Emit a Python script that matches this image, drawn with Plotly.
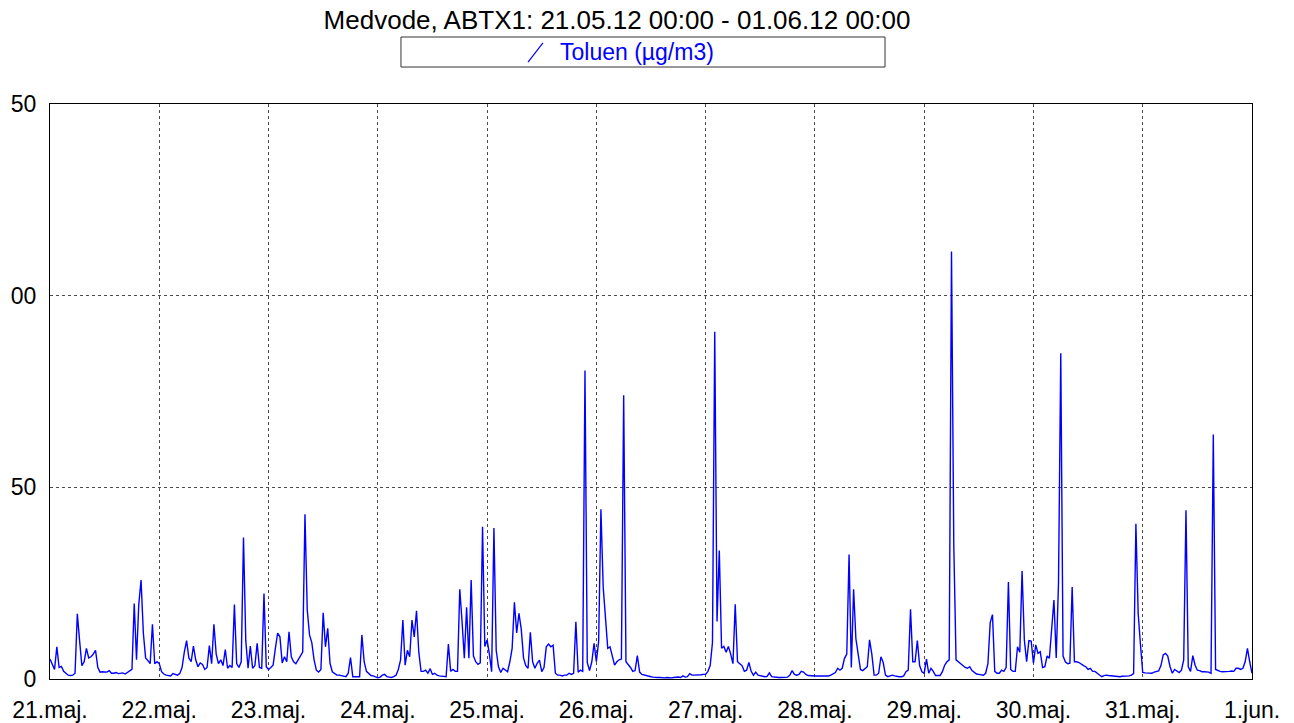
"""Medvode ABTX1 - Toluen, half-hourly values 21.05.2012 - 01.06.2012."""

import pandas as pd
import plotly.graph_objects as go

# half-hourly toluene concentrations (µg/m3), one list per day, 48 values each
may21 = [5.2, 3.8, 2.5, 8.4, 3.0, 3.3, 2.0, 1.5, 1.0, 0.9, 1.0, 1.5, 17.0, 10.0, 3.5, 4.5,
         8.0, 5.5, 5.8, 6.5, 7.5, 3.0, 1.8, 1.9, 1.8, 1.8, 2.2, 1.5, 1.5, 1.7, 1.4, 1.5,
         1.6, 1.3, 1.7, 1.9, 2.5, 19.7, 5.0, 19.5, 25.8, 12.0, 5.5, 4.8, 4.0, 14.3, 4.0, 4.5]
may22 = [4.0, 1.9, 1.3, 1.0, 0.9, 0.8, 1.4, 1.2, 1.0, 1.4, 3.0, 7.0, 10.0, 5.5, 4.5, 8.6,
         5.0, 3.2, 4.2, 3.8, 2.5, 3.0, 8.7, 4.0, 14.3, 6.5, 4.0, 5.0, 3.5, 7.7, 2.8, 3.5,
         3.0, 19.4, 4.0, 3.0, 4.5, 36.9, 10.0, 2.8, 8.6, 2.8, 3.5, 9.3, 3.0, 2.8, 22.3, 3.2]
may23 = [2.5, 3.0, 3.6, 8.0, 12.0, 11.0, 4.2, 5.8, 4.5, 12.3, 5.8, 4.5, 4.0, 5.0, 6.2, 7.0,
         43.0, 18.0, 11.5, 9.5, 5.0, 2.3, 1.8, 2.5, 17.3, 8.4, 13.2, 4.1, 1.9, 1.4, 1.0, 1.0,
         0.8, 0.7, 0.6, 1.5, 5.6, 0.6, 0.6, 0.5, 0.6, 11.5, 4.5, 2.0, 1.4, 0.9, 0.8, 0.5]
may24 = [0.3, 0.5, 1.0, 1.2, 0.6, 0.5, 0.4, 0.6, 1.0, 2.5, 5.0, 15.4, 3.6, 7.5, 5.8, 15.4,
         11.0, 17.8, 7.0, 2.0, 2.0, 2.3, 1.5, 2.7, 1.2, 1.5, 1.0, 0.8, 0.7, 0.6, 0.6, 9.1,
         2.0, 2.5, 2.0, 2.0, 23.4, 15.0, 5.4, 18.7, 5.4, 25.8, 6.0, 4.5, 3.8, 4.2, 39.7, 8.5]
may25 = [10.2, 6.5, 1.9, 39.4, 7.5, 3.2, 1.7, 2.8, 2.3, 1.9, 4.5, 8.0, 20.0, 12.0, 17.1, 13.0,
         5.5, 3.5, 2.8, 12.2, 4.5, 2.8, 4.1, 4.9, 1.9, 3.0, 8.4, 9.1, 8.4, 8.8, 1.5, 1.0,
         1.0, 0.8, 1.0, 1.0, 1.5, 1.2, 1.5, 14.9, 1.8, 2.3, 2.0, 80.5, 4.3, 2.2, 4.5, 9.3]
may26 = [4.5, 9.8, 44.3, 24.0, 16.0, 8.0, 8.4, 6.0, 3.6, 4.5, 5.0, 5.2, 74.0, 4.5, 3.8, 3.0,
         2.0, 2.2, 6.1, 1.8, 1.2, 1.0, 0.9, 0.7, 0.6, 0.5, 0.4, 0.4, 0.4, 0.3, 0.3, 0.4,
         0.3, 0.3, 0.4, 0.5, 0.5, 0.4, 0.8, 0.5, 0.6, 1.4, 1.0, 1.0, 1.0, 1.0, 1.1, 1.2]
may27 = [1.2, 2.0, 3.5, 9.5, 90.6, 15.0, 33.5, 8.0, 8.5, 7.0, 8.5, 6.5, 4.0, 19.5, 4.5, 4.0,
         3.5, 2.0, 2.3, 4.3, 2.0, 1.0, 1.8, 1.0, 0.8, 0.6, 0.6, 0.7, 1.6, 0.6, 0.5, 0.4,
         0.4, 0.4, 0.4, 0.4, 0.5, 1.0, 2.2, 1.2, 1.0, 1.2, 2.0, 1.8, 1.2, 0.9, 0.8, 0.8]
may28 = [0.8, 0.8, 0.8, 0.8, 0.8, 0.8, 0.8, 1.0, 1.3, 1.7, 2.8, 2.3, 2.8, 5.4, 6.5, 32.5,
         3.0, 23.4, 10.5, 6.0, 2.5, 2.2, 2.8, 3.2, 10.2, 6.5, 1.0, 1.0, 1.5, 5.8, 4.3, 1.0,
         0.6, 0.8, 1.0, 0.8, 0.6, 0.6, 0.6, 0.8, 1.9, 2.3, 18.2, 4.5, 4.5, 10.0, 3.5, 1.9]
may29 = [1.5, 5.2, 1.5, 2.8, 2.0, 0.9, 0.9, 0.9, 1.9, 3.6, 4.5, 5.0, 111.5, 35.0, 5.0, 4.5,
         4.0, 3.5, 3.0, 2.8, 3.2, 2.2, 1.8, 1.3, 1.2, 1.0, 1.0, 1.5, 4.0, 14.7, 16.8, 2.0,
         1.5, 1.5, 2.3, 2.0, 3.0, 25.3, 2.5, 2.0, 2.0, 8.4, 7.0, 28.2, 10.2, 4.5, 10.0, 9.9]
may30 = [4.1, 8.9, 6.7, 7.1, 3.0, 3.2, 6.0, 5.4, 12.3, 20.6, 5.5, 25.0, 85.0, 6.0, 4.5, 4.0,
         4.1, 24.0, 4.5, 4.5, 4.3, 3.8, 3.5, 3.2, 2.5, 2.8, 2.0, 2.0, 1.5, 1.2, 0.6, 0.9,
         1.0, 0.9, 0.8, 0.8, 0.7, 0.6, 0.6, 0.7, 0.7, 0.8, 0.8, 1.0, 1.4, 40.5, 17.1, 9.0]
may31 = [1.7, 1.6, 1.6, 1.5, 1.5, 1.8, 2.0, 2.1, 3.5, 6.3, 6.7, 6.0, 3.2, 1.5, 2.5, 2.0,
         1.7, 2.3, 5.0, 44.0, 3.2, 2.0, 6.1, 3.6, 2.3, 2.2, 1.9, 1.9, 1.9, 1.8, 1.5, 63.8,
         2.5, 2.2, 2.0, 1.9, 1.9, 1.9, 2.0, 2.1, 2.0, 2.8, 2.8, 2.5, 2.8, 4.5, 8.0, 4.5]
jun01 = [1.5]

toluen = may21 + may22 + may23 + may24 + may25 + may26 + may27 + may28 + may29 + may30 + may31 + jun01

day_ticks = pd.date_range("2012-05-21", "2012-06-01", freq="D")
day_labels = ["21.maj.", "22.maj.", "23.maj.", "24.maj.", "25.maj.", "26.maj.",
              "27.maj.", "28.maj.", "29.maj.", "30.maj.", "31.maj.", "1.jun."]
y_ticks = [0, 50, 100, 150]
y_labels = ["0", "50", "00", "50"]  # left digit is cut off in the original

times = pd.date_range("2012-05-21 00:00", periods=len(toluen), freq="30min")

FONT = "Liberation Sans, Arial, sans-serif"
GRID = "#4a4a4a"

fig = go.Figure()
fig.add_trace(
    go.Scatter(
        x=times,
        y=toluen,
        mode="lines",
        name="Toluen (µg/m3)",
        line=dict(color="#0000ff", width=1.4),
        showlegend=False,
    )
)

axis_style = dict(
    showgrid=True,
    gridcolor=GRID,
    griddash="dot",
    gridwidth=1,
    showline=True,
    mirror=True,
    linecolor="black",
    linewidth=1,
    ticks="",
    automargin=False,
    zeroline=False,
    tickfont=dict(family=FONT, size=23, color="black"),
)
fig.update_xaxes(
    range=[day_ticks[0], day_ticks[-1]],
    tickvals=day_ticks,
    ticktext=day_labels,
    ticklabelstandoff=10,
    **axis_style,
)
fig.update_yaxes(
    range=[0, 150],
    tickvals=y_ticks,
    ticktext=y_labels,
    ticklabelstandoff=8,
    **axis_style,
)

# legend box drawn by hand (wide framed box with a slanted line symbol)
fig.add_shape(type="rect", xref="paper", yref="paper",
              x0=0.292, x1=0.6947, y0=1.0643, y1=1.1165,
              line=dict(color="#333333", width=1), fillcolor="white")
fig.add_shape(type="line", xref="paper", yref="paper",
              x0=0.3977, x1=0.4101, y0=1.0730, y1=1.1061,
              line=dict(color="#0000ff", width=1.2))
fig.add_annotation(text="Toluen (µg/m3)", xref="paper", yref="paper",
                   x=0.4226, y=1.0904, xanchor="left", yanchor="middle",
                   showarrow=False, font=dict(family=FONT, size=23, color="#0000ff"))

# the page body adds an 8 px offset, so the figure is 8 px smaller on each side
fig.update_layout(
    title=dict(
        text="Medvode, ABTX1: 21.05.12 00:00 - 01.06.12 00:00",
        xref="container", yref="container",
        x=0.4736, y=0.983, xanchor="center", yanchor="middle",
        font=dict(family=FONT, size=26, color="black"),
    ),
    width=1286,
    height=715,
    margin=dict(l=42, r=42, t=96, b=44),
    paper_bgcolor="white",
    plot_bgcolor="white",
    showlegend=False,
)

fig.write_html("out.html")
